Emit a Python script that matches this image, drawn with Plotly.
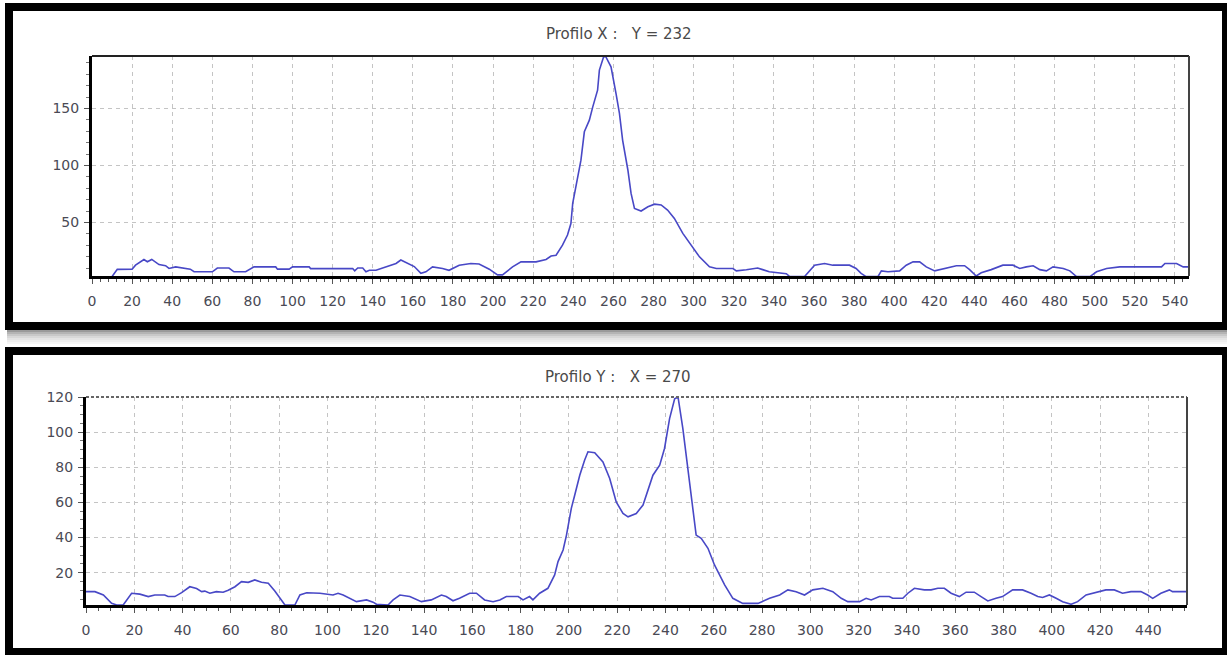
import plotly.graph_objects as go

# ---------------- data: Profilo X (Y = 232) ----------------
px_x = [0, 5, 10, 12.6, 20, 21.7, 25.9, 27.6, 29.8, 33.4, 36.7, 38.4, 41.7, 49, 50.9, 60, 62.5, 68.3,
        70.8, 76.6, 80.8, 91.6, 92.5, 98.3, 100, 108.3, 109, 130, 131, 132.5, 135, 136.6, 138.3, 141.6,
        146.6, 148.3, 151.6, 154, 157.5, 160.7, 164, 166.5, 169.8, 174.8, 178, 183.1, 188.9, 193, 198.1,
        202.2, 204.7, 209.7, 213.9, 221.4, 226.4, 228.9, 231.4, 234.6, 237.1, 238.8, 239.7, 241.3, 243.8,
        245.5, 248, 249.7, 252.1, 253, 255, 256, 258.8, 261.3, 263, 264.6, 267.2, 268.8, 270.5, 273.8,
        277.2, 280.5, 283.8, 287, 290.4, 294.6, 299.6, 302.9, 307.9, 311.3, 319.6, 321.3, 326.3, 331.9,
        334.4, 337.7, 346.2, 347.9, 355.3, 357.8, 360.3, 365.3, 369.4, 377.7, 381, 383.5, 386, 391.9,
        393.6, 396.9, 402.7, 406, 409.4, 412.7, 416, 420.2, 424.3, 431, 435.1, 437.6, 440.9, 443.4, 448.4,
        454.2, 459.2, 462.6, 465.9, 469.3, 472.6, 475.9, 479.2, 484.3, 487.6, 490.9, 497.6, 500.9, 505.9,
        512.5, 533.3, 535, 540.8, 544.1, 547]
px_y = [2, 2, 2.5, 8.8, 9, 12.5, 17.5, 15.5, 17.5, 13, 12, 9.6, 11, 9, 6.7, 6.7, 10, 10,
        6.7, 6.7, 11, 11, 9, 9, 11, 11, 9.5, 9.5, 7.5, 10, 10, 6.7, 8, 8,
        11, 12.5, 14, 17, 14, 11.3, 5.3, 6.7, 11, 9.6, 8, 12.5, 14, 13.5, 9,
        4, 4, 11, 15.4, 15.4, 17.5, 20.5, 21.2, 30, 38.9, 49, 66.7, 81, 104.6,
        129.5, 139.7, 151.4, 166, 183.6, 194.7, 196, 186.5, 163, 145.6, 122, 96, 75.4, 62.3, 60,
        63.7, 66, 65.3, 60.8, 53.5, 40.4, 28.6, 19.8, 11, 9.6, 9.6, 7.5, 8.5, 10,
        8.6, 6.7, 5, 2.5, 2.5, 8, 12.5, 14, 12.5, 12.5, 9.6, 5.3, 2.5, 2.5,
        7.5, 6.7, 7.5, 12.5, 15.4, 15.4, 11, 7.5, 9.2, 12, 12, 8.6, 3, 5.8, 8.6,
        12.5, 12.5, 9.6, 11, 12, 8.6, 7.5, 11, 9.6, 7.5, 2.5, 2.5, 6.7, 9.6,
        11, 11, 14, 14, 11, 11]

# ---------------- data: Profilo Y (X = 270) ----------------
py_x = [0, 3.7, 7.2, 10.6, 12.7, 15.4, 18.9, 22.3, 25.8, 28.5, 32.6, 34, 36.8, 39.6, 43, 45.8, 47.9,
        49.2, 51.3, 54, 56.8, 58.9, 61.7, 64.4, 67.2, 69.9, 72.7, 75.5, 78.2, 81, 82.4, 86.5, 88.6, 91.4,
        96.9, 102.3, 104.4, 106.5, 109.3, 112, 116.2, 118.9, 120.3, 125.1, 127.2, 130, 134.1, 138.9, 143,
        147.2, 149.2, 152, 154.7, 158.9, 161.7, 165.1, 168.6, 171.4, 174.1, 179, 181, 183.7, 185.1, 187.9,
        191.3, 194.1, 195.5, 197.6, 199, 201, 202.4, 204.5, 206.5, 207.9, 210.7, 214.1, 216.9, 219.6,
        222.4, 224.5, 227.9, 230.7, 234.8, 237.6, 239.6, 241.7, 243.8, 245.2, 247.2, 249.3, 251.4, 252.7,
        254.8, 257.6, 260.3, 264.5, 267.9, 272, 278.3, 283.1, 287.3, 290.7, 294.1, 297.6, 301, 305.2,
        309.3, 312.8, 315.5, 320.4, 323.1, 325.2, 328.6, 332.7, 334.1, 338.3, 340.4, 343.1, 347.2, 350,
        352.8, 355.5, 358.3, 361.7, 364.5, 367.9, 370.7, 373.5, 376.9, 379.6, 383.8, 387.9, 391.4, 394.2,
        396.2, 399, 401.8, 404.5, 408, 410.7, 414.2, 418.3, 422.4, 425.9, 429.3, 432.8, 436.9, 439.7,
        441.8, 445.2, 448.7, 450, 455.6]
py_y = [9.2, 9.2, 7.3, 2.6, 1.6, 1.6, 8.3, 7.8, 6.4, 7.3, 7.3, 6.4, 6.4, 8.6, 12, 11, 9.2,
        9.5, 8.3, 9.2, 8.9, 10, 12, 14.9, 14.5, 15.9, 14.5, 14, 9.6, 4.5, 1.6, 1.6, 7.3, 8.6,
        8.3, 7.3, 8.3, 7.3, 5.4, 3.5, 4.5, 3.2, 2, 1.6, 4.5, 7.3, 6.4, 3.5, 4.5,
        7.3, 6.4, 4, 5.4, 8.3, 8.3, 4.5, 3.5, 4.5, 6.4, 6.4, 4.5, 6.4, 4.5, 8.3,
        11.1, 18.7, 26.3, 32.9, 41.4, 56.6, 64.1, 75.5, 84, 88.8, 88.3, 83, 73.6, 60.3,
        53.7, 51.8, 53.7, 58.5, 75.5, 81.2, 90.7, 107.7, 119, 120, 102, 79.3, 56.6, 41.4,
        39.5, 33.9, 24.4, 13, 5.4, 2.5, 2.5, 5.4, 7.3, 10.2, 9.2, 7.3, 10.2, 11.1,
        9.2, 5.4, 3.5, 3.5, 5.4, 4.5, 6.4, 6.4, 5.4, 5.4, 8.3, 11.1, 10.2, 10.2,
        11.1, 11.1, 8.3, 6.4, 8.9, 8.9, 6.4, 3.9, 5.4, 6.4, 10.2, 10.2, 8.3, 6.4,
        5.9, 7.3, 5.4, 3.5, 2, 3.5, 7.3, 8.9, 10.2, 10.2, 8.3, 9.2, 9.2, 7.3,
        5.4, 8.3, 10.2, 9.2, 9.2]

title_top = "Profilo X :\u00a0\u00a0\u00a0Y = 232"
title_bot = "Profilo Y :\u00a0\u00a0\u00a0X = 270"
top_yticks = [50, 100, 150]
bot_yticks = [20, 40, 60, 80, 100, 120]
top_xticks = list(range(0, 541, 20))
bot_xticks = list(range(0, 441, 20))

# ---------------- layout helpers ----------------
W, H = 1227, 655
def fx(p): return p / W
def fy(p): return 1 - p / H

LINE = "#4848c6"
GRID = "#c4c4c4"
FONT = dict(family="DejaVu Sans", size=14, color="#4a4a55")

fig = go.Figure()
fig.add_trace(go.Scatter(x=px_x, y=px_y, mode="lines", line=dict(color=LINE, width=1.6),
                         xaxis="x", yaxis="y", showlegend=False))
fig.add_trace(go.Scatter(x=py_x, y=py_y, mode="lines", line=dict(color=LINE, width=1.6),
                         xaxis="x2", yaxis="y2", showlegend=False))

common_x = dict(showgrid=True, gridcolor=GRID, griddash="4px,4px", gridwidth=1,
                showline=True, linecolor="black", linewidth=3, automargin=False,
                ticks="outside", ticklen=5, tickcolor="#555", tickwidth=1,
                tickfont=FONT, zeroline=False, ticklabelstandoff=5, fixedrange=True)
common_y = dict(showgrid=True, gridcolor=GRID, griddash="4px,4px", gridwidth=1,
                showline=True, linecolor="black", linewidth=3, automargin=False,
                ticks="outside", ticklen=5, tickcolor="#555", tickwidth=1,
                tickfont=FONT, zeroline=False, ticklabelstandoff=2, fixedrange=True)

fig.update_layout(
    width=W, height=H, margin=dict(l=0, r=0, t=0, b=0, pad=0, autoexpand=False),
    paper_bgcolor="white", plot_bgcolor="white",
    xaxis=dict(domain=[fx(92), fx(1189)], range=[0, 547], anchor="y", tickvals=top_xticks,
               minor=dict(dtick=4, tick0=0, ticks="outside", ticklen=3, tickcolor="#555", showgrid=False),
               **common_x),
    yaxis=dict(domain=[fy(276), fy(56)], range=[3, 196], anchor="x", tickvals=top_yticks,
               minor=dict(dtick=10, tick0=0, ticks="outside", ticklen=3, tickcolor="#777", showgrid=False),
               **common_y),
    xaxis2=dict(domain=[fx(86), fx(1187)], range=[0, 456], anchor="y2", tickvals=bot_xticks,
                minor=dict(dtick=5, tick0=0, ticks="outside", ticklen=3, tickcolor="#555", showgrid=False),
                **common_x),
    yaxis2=dict(domain=[fy(605), fy(397)], range=[1.6, 120], anchor="x2", tickvals=bot_yticks,
                minor=dict(dtick=5, tick0=0, ticks="outside", ticklen=3, tickcolor="#777", showgrid=False),
                **common_y),
)

shapes = []
# shadow between panels
for i, c in enumerate(["#9a9a9a", "#b4b4b4", "#c8c8c8", "#d8d8d8", "#e4e4e4", "#eeeeee", "#f6f6f6"]):
    shapes.append(dict(type="rect", xref="paper", yref="paper", x0=fx(7), x1=fx(1227),
                       y0=fy(330 + 2 * i + 2), y1=fy(330 + 2 * i), line=dict(width=0), fillcolor=c, layer="below"))
# outer frames
shapes.append(dict(type="rect", xref="paper", yref="paper", x0=fx(9), x1=fx(1226), y0=fy(326), y1=fy(7),
                   line=dict(color="black", width=8)))
shapes.append(dict(type="rect", xref="paper", yref="paper", x0=fx(9), x1=fx(1226), y0=fy(652), y1=fy(351),
                   line=dict(color="black", width=8)))
# plot frame top/right borders
shapes.append(dict(type="line", xref="x domain", yref="y domain", x0=0, x1=1, y0=1, y1=1,
                   line=dict(color="#222", width=2)))
shapes.append(dict(type="line", xref="x domain", yref="y domain", x0=1, x1=1, y0=0, y1=1,
                   line=dict(color="#444", width=2)))
shapes.append(dict(type="line", xref="x2 domain", yref="y2 domain", x0=0, x1=1, y0=1, y1=1,
                   line=dict(color="#666", width=2, dash="3px,2px")))
shapes.append(dict(type="line", xref="x2 domain", yref="y2 domain", x0=1, x1=1, y0=0, y1=1,
                   line=dict(color="#444", width=2)))
fig.update_layout(shapes=shapes)

fig.add_annotation(text=title_top, xref="paper", yref="paper", x=fx(619), y=fy(34),
                   xanchor="center", yanchor="middle",
                   showarrow=False, font=dict(family="DejaVu Sans", size=15, color="#4a4a4a"))
fig.add_annotation(text=title_bot, xref="paper", yref="paper", x=fx(618), y=fy(377),
                   xanchor="center", yanchor="middle",
                   showarrow=False, font=dict(family="DejaVu Sans", size=15, color="#4a4a4a"))

fig.write_html("out.html", config=dict(displayModeBar=False),
               post_script="document.body.style.margin='0';document.body.style.overflow='hidden';")
